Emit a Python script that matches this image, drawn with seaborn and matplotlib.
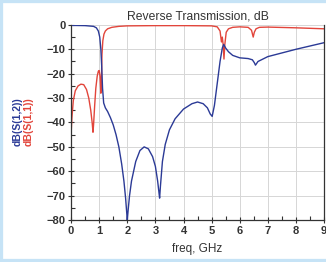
import matplotlib
matplotlib.use("Agg")
import matplotlib.pyplot as plt
import numpy as np
import pandas as pd
import seaborn as sns
from matplotlib.lines import Line2D
from matplotlib.ticker import MultipleLocator

# S(1,1) reflection trace, dB
s11_freq = [0.0, 0.03, 0.08, 0.15, 0.25, 0.35, 0.45, 0.55, 0.63, 0.7, 0.75, 0.78,
            0.8, 0.84, 0.88, 0.93, 0.97, 1.0, 1.03, 1.06, 1.08, 1.1, 1.13, 1.17,
            1.22, 1.3, 1.45, 1.7, 2.0, 3.0, 4.0, 5.0, 5.2, 5.3, 5.35, 5.38, 5.41,
            5.44, 5.47, 5.52, 5.6, 5.75, 6.0, 6.3, 6.42, 6.48, 6.52, 6.58, 6.7,
            7.0, 8.0, 9.0]
s11_db = [-45, -38, -31, -27, -25, -24.3, -24.5, -26.5, -30, -35, -40, -44,
          -41, -33, -26, -21, -19, -18.7, -21, -28, -22, -12, -6.5, -3.8,
          -2.5, -1.6, -1.0, -0.6, -0.4, -0.3, -0.3, -0.4, -0.8, -2.5, -7, -5, -8,
          -14, -8, -3, -1.6, -1.0, -0.8, -1.0, -2.2, -5, -3, -1.6, -1.0,
          -0.9, -1.2, -1.6]

# S(1,2) transmission trace, dB
s12_freq = [0.0, 0.5, 0.8, 0.9, 0.97, 1.02, 1.06, 1.09, 1.12, 1.16, 1.22, 1.3,
            1.4, 1.5, 1.6, 1.7, 1.8, 1.88, 1.94, 1.98, 2.0, 2.03, 2.08, 2.15,
            2.3, 2.45, 2.6, 2.75, 2.9, 3.0, 3.08, 3.13, 3.15, 3.18, 3.25, 3.35,
            3.5, 3.7, 4.0, 4.3, 4.5, 4.7, 4.85, 4.95, 5.02, 5.1, 5.2, 5.3, 5.38,
            5.43, 5.5, 5.6, 5.75, 6.0, 6.3, 6.45, 6.52, 6.56, 6.65, 7.0, 8.0, 9.0]
s12_db = [-0.2, -0.3, -0.6, -1.2, -2.5, -5, -10, -17, -26, -32, -34, -35.5,
          -38, -41, -45, -50, -57, -64, -71, -77, -80, -76, -70, -64,
          -56, -51.5, -50, -50.8, -54, -58, -64, -69, -71, -66, -56, -49,
          -43, -38.5, -34.5, -32.3, -31.6, -32.3, -34, -36.5, -37.5, -33, -24, -15, -9.5,
          -8, -9.5, -11, -12.5, -13.5, -13.8, -14.3, -15.5, -16.5, -15, -13, -10, -7.3]

x_ticks = list(range(0, 10))
y_ticks = list(range(-80, 1, 10))

BLUE = "#2b3a96"
RED = "#e2453b"

df = pd.concat([
    pd.DataFrame({"freq": s11_freq, "db": s11_db, "trace": "dB(S(1,1))"}),
    pd.DataFrame({"freq": s12_freq, "db": s12_db, "trace": "dB(S(1,2))"}),
])

sns.set_style("whitegrid")
plt.rcParams["font.family"] = ["Liberation Sans", "DejaVu Sans"]

fig = plt.figure(figsize=(3.26, 2.62), dpi=100)
ax = fig.add_axes([0.218, 0.16, 0.776, 0.745])

sns.lineplot(data=df, x="freq", y="db", hue="trace",
             palette={"dB(S(1,1))": RED, "dB(S(1,2))": BLUE},
             hue_order=["dB(S(1,1))", "dB(S(1,2))"],
             linewidth=1.0, sort=False, legend=False, ax=ax)

ax.set_xlim(0, 9)
ax.set_ylim(-80, 0)
ax.set_xticks(x_ticks)
ax.set_yticks(y_ticks)
ax.xaxis.set_minor_locator(MultipleLocator(0.5))
ax.yaxis.set_minor_locator(MultipleLocator(5))
ax.grid(True, which="major", color="#d6d6d6", linewidth=0.7)
ax.tick_params(axis="both", which="major", direction="inout", length=5,
               width=0.8, color="#333333", labelsize=8, labelcolor="#333333", pad=1.5)
ax.tick_params(axis="both", which="minor", direction="in", length=3,
               width=0.8, color="#333333")
ax.tick_params(axis="both", which="both", bottom=True, left=True)
for lab in ax.get_xticklabels() + ax.get_yticklabels():
    lab.set_fontweight("bold")
for side in ["left", "bottom", "right"]:
    ax.spines[side].set_color("#333333")
    ax.spines[side].set_linewidth(0.9)
ax.spines["top"].set_visible(False)

ax.set_xlabel("freq, GHz", fontsize=8.5, color="#333333", labelpad=5)
ax.set_ylabel("")
ax.set_title("Reverse Transmission, dB", fontsize=8.7, color="#333333", pad=4)

fig.text(0.053, 0.534, "dB(S(1,2))", rotation=90, color=BLUE, fontsize=7.5,
         fontweight="bold", ha="center", va="center")
fig.text(0.088, 0.534, "dB(S(1,1))", rotation=90, color=RED, fontsize=7.5,
         fontweight="bold", ha="center", va="center")

# light blue frame around the panel
frame_c = "#c6e3f6"
for xs, ys in [([0, 0], [0, 1]), ([0, 1], [1, 1]), ([0, 1], [0, 0])]:
    fig.add_artist(Line2D(xs, ys, transform=fig.transFigure, color=frame_c,
                          linewidth=4.5, clip_on=False))

fig.savefig("out.png", dpi=100)
